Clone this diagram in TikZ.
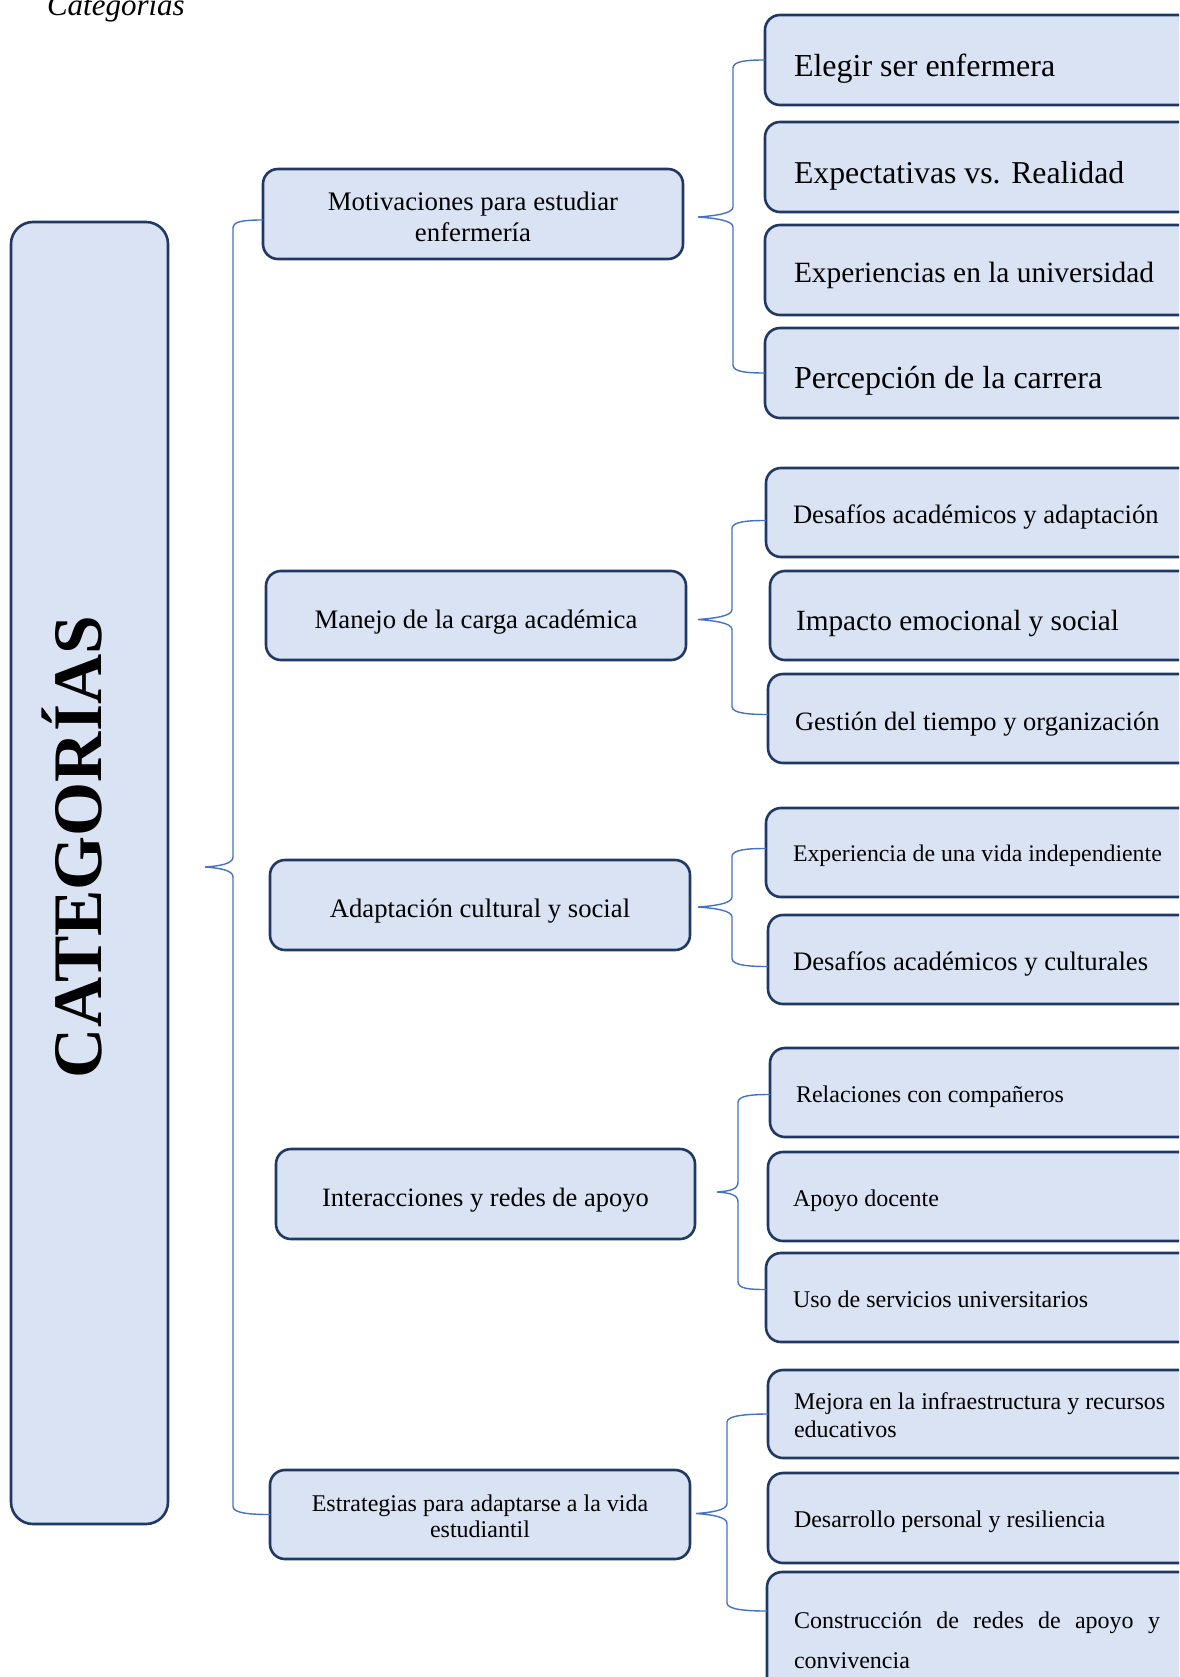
\documentclass[tikz,border=0pt]{standalone}
\usepackage{fontspec}
\setmainfont{Liberation Serif}
\usetikzlibrary{calc}
\definecolor{boxfill}{HTML}{DAE3F3}
\definecolor{boxdraw}{HTML}{203864}
\definecolor{bracecol}{HTML}{4472C4}
\newcommand\fs[2]{\fontsize{#1}{#2}\selectfont}
% box: name, left, top, right, bottom
\newcommand\boxnode[5]{\node[box, minimum width={#4-#2}, minimum height={#5-#3}] (#1) at (#2,#3) {};}
% curly brace: tip, top end, bottom end, offset of the vertical line from the tip
\newcommand\cbrace[4]{%
\draw[bracel] let \p1=(#1), \p2=(#2), \p3=(#3), \p4=($(#1)+(#4,0)$) in
 (\p2) .. controls (\x2-18pt,\y2) and (\x4,\y2-1pt) .. (\x4,\y2-8pt)
 -- (\x4,\y1+10pt) .. controls (\x4,\y1+3pt) and (\x1+14pt,\y1+1pt) .. (\p1)
 .. controls (\x1+14pt,\y1-1pt) and (\x4,\y1-3pt) .. (\x4,\y1-10pt)
 -- (\x4,\y3+8pt) .. controls (\x4,\y3+1pt) and (\x3-18pt,\y3) .. (\p3);}
\begin{document}
\begin{tikzpicture}[x=1pt,y=-1pt,
  box/.style={draw=boxdraw, fill=boxfill, line width=2.6pt, rounded corners=15pt,
    anchor=north west, inner sep=0pt, outer sep=0pt},
  bigbox/.style={box, rounded corners=22pt},
  txt/.style={inner sep=0pt, outer sep=0pt},
  bracel/.style={draw=bracecol, line width=1.4pt}]
\useasboundingbox (0,0) rectangle (1179,1677);
\clip (0,0) rectangle (1179,1677);

% caption
\node[txt, anchor=base west, font=\fs{31}{36}\itshape] (cap) at (47,16) {Categorías};

% main category box
\node[bigbox, minimum width=157, minimum height=1302] (cat) at (11,222) {};
\node[txt, rotate=90, anchor=base, font=\fs{69.5}{80}\bfseries] (catt) at (101,847) {CATEGORÍAS};

% level 1 boxes
\boxnode{m1}{263}{169}{683}{259}
\boxnode{m2}{266}{571}{686}{660}
\boxnode{m3}{270}{860}{690}{950}
\boxnode{m4}{276}{1149}{695}{1239}
\boxnode{m5}{270}{1470}{690}{1559}

\node[txt, anchor=base, font=\fs{26.8}{30.5}] (t1) at (473,211)
  {\begin{tabular}[t]{@{}c@{}}Motivaciones para estudiar\\enfermería\end{tabular}};
\node[txt, anchor=base, font=\fs{26.7}{30}] (t2) at (476,628) {Manejo de la carga académica};
\node[txt, anchor=base, font=\fs{26.7}{30}] (t3) at (480,917) {Adaptación cultural y social};
\node[txt, anchor=base, font=\fs{26.5}{30}] (t4) at (485.5,1206) {Interacciones y redes de apoyo};
\node[txt, anchor=base, font=\fs{24}{26.5}] (t5) at (480,1511)
  {\begin{tabular}[t]{@{}c@{}}Estrategias para adaptarse a la vida\\estudiantil\end{tabular}};

% level 2 boxes
\boxnode{c11}{765}{15}{1200}{105}
\boxnode{c12}{765}{122}{1200}{212}
\boxnode{c13}{765}{225}{1200}{315}
\boxnode{c14}{765}{328}{1200}{418}
\boxnode{c21}{766}{468}{1200}{557}
\boxnode{c22}{770}{571}{1200}{660}
\boxnode{c23}{768}{674}{1200}{763}
\boxnode{c31}{766}{808}{1200}{897}
\boxnode{c32}{768}{915}{1200}{1004}
\boxnode{c41}{770}{1048}{1200}{1137}
\boxnode{c42}{768}{1152}{1200}{1241}
\boxnode{c43}{766}{1253}{1200}{1342}
\boxnode{c51}{768}{1370}{1200}{1458}
\boxnode{c52}{768}{1473}{1200}{1563}
\boxnode{c53}{767}{1572}{1200}{1700}

\node[txt, anchor=base west, font=\fs{32}{37}] (s11) at (794,77) {Elegir ser enfermera};
\node[txt, anchor=base west, font=\fs{31.8}{37}] (s12) at (794,184) {Expectativas vs. Realidad};
\node[txt, anchor=base west, font=\fs{29.4}{34}] (s13) at (794,283) {Experiencias en la universidad};
\node[txt, anchor=base west, font=\fs{32}{37}] (s14) at (794,388) {Percepción de la carrera};
\node[txt, anchor=base west, font=\fs{26.6}{30}] (s21) at (793,523) {Desafíos académicos y adaptación};
\node[txt, anchor=base west, font=\fs{29.3}{34}] (s22) at (796,630) {Impacto emocional y social};
\node[txt, anchor=base west, font=\fs{26.5}{30}] (s23) at (795,730) {Gestión del tiempo y organización};
\node[txt, anchor=base west, font=\fs{23.8}{27}] (s31) at (793,861) {Experiencia de una vida independiente};
\node[txt, anchor=base west, font=\fs{26.7}{30}] (s32) at (793,970) {Desafíos académicos y culturales};
\node[txt, anchor=base west, font=\fs{24}{28}] (s41) at (796,1102) {Relaciones con compañeros};
\node[txt, anchor=base west, font=\fs{24}{28}] (s42) at (793,1206) {Apoyo docente};
\node[txt, anchor=base west, font=\fs{24}{28}] (s43) at (793,1307) {Uso de servicios universitarios};
\node[txt, anchor=base west, font=\fs{24}{28}] (s51) at (794,1409)
  {\begin{tabular}[t]{@{}l@{}}Mejora en la infraestructura y recursos\\educativos\end{tabular}};
\node[txt, anchor=base west, font=\fs{24}{28}] (s52) at (794,1527) {Desarrollo personal y resiliencia};
\node[txt, anchor=base west, font=\fs{24}{40}] (s53) at (794,1628)
  {\begin{tabular}[t]{@{}l@{}}\makebox[366pt][s]{Construcción de redes de apoyo y}\\convivencia\end{tabular}};

% brace tips and ends
\coordinate (k0) at ([xshift=37pt,yshift=6pt]cat.east);
\coordinate (k1) at ([xshift=15pt,yshift=-3pt]m1.east);
\coordinate (k2) at ([xshift=12pt,yshift=-4pt]m2.east);
\coordinate (k3) at ([xshift=8pt,yshift=-2pt]m3.east);
\coordinate (k4) at ([xshift=22pt,yshift=2pt]m4.east);
\coordinate (k5) at ([xshift=6pt,yshift=1pt]m5.east);
\coordinate (e01) at ([yshift=-6pt]m1.west);
\coordinate (e21) at ([yshift=-8pt]c21.west);
\coordinate (e23) at ([yshift=4pt]c23.west);
\coordinate (e31) at ([yshift=4pt]c31.west);
\coordinate (e32) at ([yshift=-7pt]c32.west);
\coordinate (e41) at ([yshift=-2pt]c41.west);
\coordinate (e43) at ([yshift=8pt]c43.west);
\coordinate (e53) at ([yshift=-39pt]c53.north west);

\cbrace{k0}{e01}{m5.west}{28}
\cbrace{k1}{c11.west}{c14.west}{35}
\cbrace{k2}{e21}{e23}{34}
\cbrace{k3}{e31}{e32}{34}
\cbrace{k4}{e41}{e43}{21}
\cbrace{k5}{c51.west}{e53}{31}
\end{tikzpicture}
\end{document}
